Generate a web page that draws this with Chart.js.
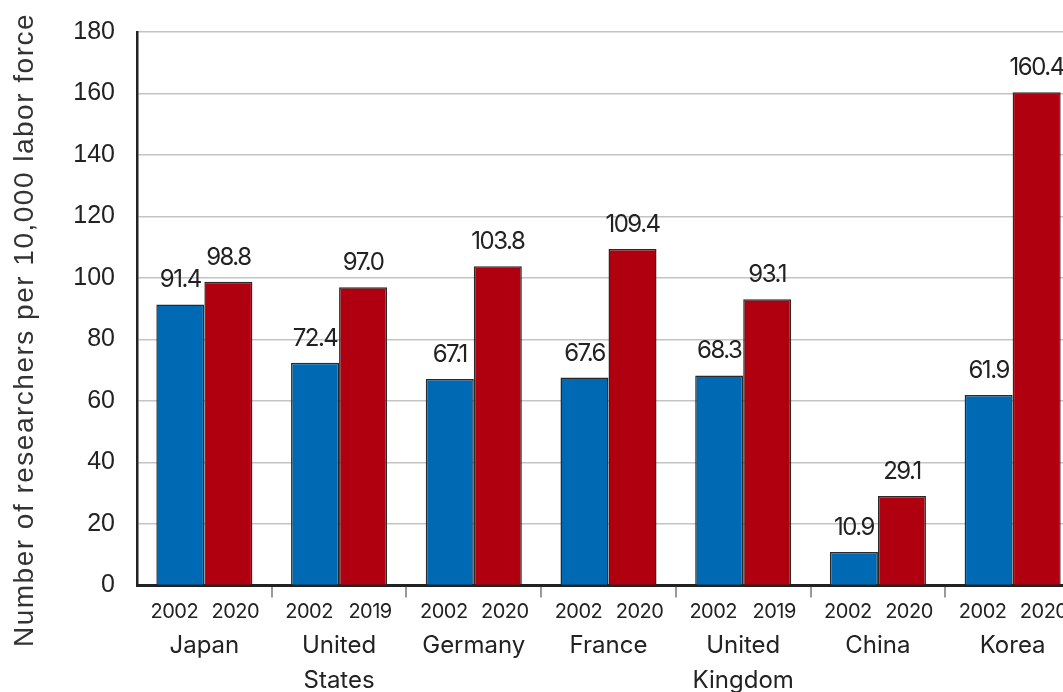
<!DOCTYPE html>
<html>
<head>
<meta charset="utf-8">
<title>Researchers per 10,000 labor force</title>
<script src="https://cdn.jsdelivr.net/npm/chart.js@4/dist/chart.umd.min.js"></script>
<style>
	html, body { margin: 0; padding: 0; overflow: hidden; background: #fff; }
	#chartDiv { position: relative; width: 1080px; height: 729px; }
</style>
</head>
<body>
<div id="chartDiv"><canvas id="chart"></canvas></div>
<script>
var countries = [["Japan"], ["United", "States"], ["Germany"], ["France"], ["United", "Kingdom"], ["China"], ["Korea"]];
var firstYears = ["2002", "2002", "2002", "2002", "2002", "2002", "2002"];
var lastYears = ["2020", "2019", "2020", "2020", "2019", "2020", "2020"];
var values2002 = [91.4, 72.4, 67.1, 67.6, 68.3, 10.9, 61.9];
var valuesLatest = [98.8, 97.0, 103.8, 109.4, 93.1, 29.1, 160.4];
var yMax = 180;
var yStep = 20;
var yTitle = "Number of researchers per 10,000 labor force";

var labelFont = "Inter, 'Noto Sans', sans-serif";
var axisFont = "'Liberation Sans', Arial, sans-serif";

//writes the value over each bar and the year under it
var barText = {
	id: "barText",
	afterDatasetsDraw: function(chart) {
		var ctx = chart.ctx;
		var years = [firstYears, lastYears];
		var yearShift = [-6, 7];
		ctx.save();
		ctx.fillStyle = "#222";
		ctx.textAlign = "center";
		for (var d = 0; d < chart.data.datasets.length; d++) {
			var meta = chart.getDatasetMeta(d);
			var values = chart.data.datasets[d].data;
			for (var i = 0; i < meta.data.length; i++) {
				var bar = meta.data[i];
				ctx.font = "24px " + labelFont;
				ctx.letterSpacing = "-1.5px";
				ctx.textBaseline = "alphabetic";
				ctx.fillText(values[i].toFixed(1), bar.x, bar.y - 17);

				ctx.font = "20px " + labelFont;
				ctx.letterSpacing = "-0.5px";
				ctx.textBaseline = "middle";
				ctx.fillText(years[d][i], bar.x + yearShift[d], chart.chartArea.bottom + 27);
			}
		}
		ctx.restore();
	}
};

//rotated y axis title, spaced out a little
var yAxisTitle = {
	id: "yAxisTitle",
	afterDraw: function(chart) {
		var ctx = chart.ctx;
		ctx.save();
		ctx.translate(33, 330);
		ctx.rotate(-Math.PI / 2);
		ctx.font = "28px " + axisFont;
		ctx.letterSpacing = "1.5px";
		ctx.fillStyle = "#333";
		ctx.textAlign = "center";
		ctx.textBaseline = "alphabetic";
		ctx.fillText(yTitle, 0, 0);
		ctx.restore();
	}
};

var ctx = document.getElementById("chart").getContext("2d");
var myChart = new Chart(ctx, {
	type: "bar",
	data: {
		labels: countries,
		datasets: [{
			label: "2002",
			data: values2002,
			backgroundColor: "#0069b4",
			borderColor: "#2a2a2a",
			borderWidth: 1.5
		}, {
			label: "Latest",
			data: valuesLatest,
			backgroundColor: "#b0000f",
			borderColor: "#2a2a2a",
			borderWidth: 1.5
		}]
	},
	options: {
		responsive: true,
		maintainAspectRatio: false,
		animation: false,
		categoryPercentage: 0.713,
		barPercentage: 1.0,
		layout: { padding: { top: 32, left: 7, right: 0, bottom: 0 } },
		plugins: {
			legend: { display: false },
			tooltip: { enabled: false }
		},
		scales: {
			x: {
				offset: true,
				border: { color: "#222", width: 3 },
				grid: {
					offset: true,
					drawOnChartArea: false,
					drawTicks: true,
					tickLength: 12,
					lineWidth: 2,
					color: function(c) {
						return c.index === 0 ? "rgba(0,0,0,0)" : "#9a9a9a";
					}
				},
				ticks: {
					color: "#222",
					padding: 31,
					maxRotation: 0,
					autoSkip: false,
					font: { family: labelFont, size: 24, lineHeight: 1.45 }
				}
			},
			y: {
				min: 0,
				max: yMax,
				afterFit: function(scale) {
					scale.width = 130;
				},
				border: { color: "#222", width: 2.5 },
				grid: { color: "#c4c4c4", lineWidth: 1.5, drawTicks: false },
				ticks: {
					stepSize: yStep,
					color: "#222",
					padding: 22,
					font: { family: axisFont, size: 25, lineHeight: 0.6 }
				}
			}
		}
	},
	plugins: [barText, yAxisTitle]
});
</script>
</body>
</html>
